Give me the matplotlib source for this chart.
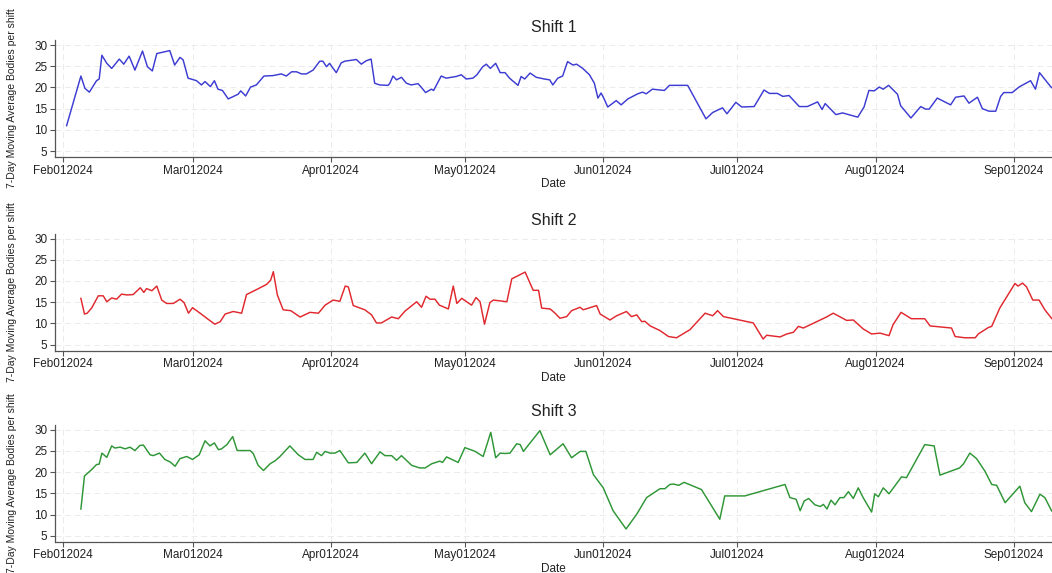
"""Three-panel 7-day moving average of bodies per shift."""

import matplotlib

matplotlib.use("Agg")
import matplotlib.dates as mdates
import matplotlib.pyplot as plt
import pandas as pd

START = pd.Timestamp("2024-02-01")

# day offsets from Feb 1 2024
shift1_days = [0.8, 4, 4.9, 5.9, 7.5, 8.1, 8.7, 9.8, 10.9, 12.6, 13.6, 14.8, 16.1, 17.8,
               18.9, 20, 21, 23.9, 25, 26.2, 26.9, 28, 29.9, 31, 31.8, 33, 33.9, 34.7,
               35.7, 37, 39.2, 39.8, 40.9, 42, 43.3, 45, 47, 48.9, 50, 51.2, 52.3, 53.4,
               54.5, 56, 57.5, 58.2, 59, 59.7, 60.5, 61.2, 62.3, 63.1, 65.7, 66.8, 67.9,
               69, 69.8, 70.9, 72.8, 73.2, 73.9, 74.7, 75.8, 76.9, 78, 79.5, 80.2, 81.2,
               82.5, 83, 84.7, 85.8, 88.1, 89.2, 90.3, 91.8, 92.7, 94, 94.8, 95.7, 96.9,
               97.9, 99, 100, 101.9, 102.6, 103.4, 104.6, 106, 107.8, 109, 109.7, 110.8,
               111.9, 113, 114.2, 115, 116.4, 117.9, 119, 119.8, 120.5, 121.1, 122, 123.9,
               125, 126.5, 128.7, 129.8, 130.6, 132, 134.7, 135.8, 139.9, 144, 145.5,
               147.7, 148.7, 150.7, 152, 154.8, 157, 158.2, 160, 161.2, 162.6, 164.9,
               166.7, 169, 170, 170.7, 173.1, 174.6, 178, 179.4, 180.5, 181.7, 182.8,
               183.7, 184.9, 186.9, 187.6, 189.9, 192.1, 193.2, 194, 195.8, 198.8, 199.9,
               201.8, 202.9, 204.8, 205.9, 207.4, 208.9, 210, 210.7, 212.6, 214.1, 216.7,
               217.8, 218.7, 221.2, 223]
shift1_vals = [11.0, 22.7, 19.8, 18.9, 21.6, 22.0, 27.6, 25.7, 24.5, 26.7, 25.5, 27.4, 24.1,
               28.6, 24.9, 23.9, 28.0, 28.7, 25.3, 27.1, 26.5, 22.2, 21.6, 20.6, 21.4, 20.2,
               21.6, 19.6, 19.3, 17.3, 18.4, 19.2, 18.0, 20.1, 20.6, 22.7, 22.8, 23.2, 22.7,
               23.7, 23.7, 23.2, 23.2, 24.1, 26.2, 26.2, 24.9, 25.7, 24.5, 23.5, 25.8, 26.2,
               26.6, 25.5, 26.3, 26.7, 21.0, 20.6, 20.5, 21.0, 22.7, 21.8, 22.4, 21.0, 20.6,
               20.9, 20.1, 18.8, 19.6, 19.3, 22.7, 22.2, 22.6, 23.0, 22.0, 22.2, 23.0, 24.9,
               25.5, 24.5, 25.7, 23.5, 23.5, 22.2, 20.5, 22.6, 22.0, 23.4, 22.4, 22.0, 21.8,
               20.6, 22.2, 22.7, 26.1, 25.3, 25.5, 24.5, 23.0, 21.0, 17.5, 18.7, 17.5, 15.4,
               16.9, 15.9, 17.3, 18.5, 18.9, 18.5, 19.6, 19.3, 20.5, 20.5, 12.6, 14.1, 15.2,
               13.8, 16.5, 15.4, 15.5, 19.4, 18.6, 18.6, 17.9, 18.1, 15.5, 15.5, 16.6, 14.8,
               16.2, 13.6, 14.0, 13.0, 15.4, 19.3, 19.2, 20.1, 19.6, 20.5, 18.4, 15.7, 12.8,
               15.5, 14.9, 14.9, 17.5, 15.9, 17.7, 18.0, 16.3, 17.7, 15.0, 14.4, 14.4, 17.9,
               18.8, 18.8, 20.1, 21.6, 19.6, 23.5, 20.2, 18.5]

shift2_days = [4, 4.8, 5.4, 6.4, 7.9, 9, 9.8, 10.9, 12, 13.1, 14.3, 15.7, 17.3, 18.1, 18.7,
               19.9, 21, 22.1, 23.2, 24.7, 26.2, 27.1, 28.1, 29, 30.7, 32.2, 34, 35.2, 36.3,
               38.1, 40, 41.1, 43.4, 45.6, 46.5, 47.1, 48, 49.3, 51, 53.1, 55.3, 57.2, 58.7,
               60.5, 62, 63.2, 63.9, 65, 67.6, 69.1, 70.2, 71.3, 73.6, 75.1, 76.6, 79.2,
               80.3, 81.3, 82.2, 83.3, 84.3, 86.3, 87.4, 88.2, 89.3, 91.5, 92.5, 93.4, 94.4,
               95.6, 96.4, 99.4, 100.5, 103.5, 105.3, 106.5, 107.2, 109.1, 110.2, 111.3,
               112.8, 113.9, 115.8, 116.5, 119.5, 120.3, 122.5, 124, 126.2, 127.3, 128.5,
               129.6, 130.3, 131.5, 133.7, 135.6, 137.4, 140.4, 143.8, 145.5, 146.6, 147.9,
               154.6, 156.8, 157.6, 160.6, 162.1, 163.6, 164.7, 165.8, 171, 172.5, 175.5,
               177, 179.2, 181.1, 183, 185, 185.9, 187.7, 190, 193, 194.2, 199, 199.8, 202,
               204.3, 205, 207.2, 208, 209.8, 213.2, 213.9, 214.9, 215.8, 217.2, 218.6,
               219.9, 221.4, 223]
shift2_vals = [15.9, 12.2, 12.4, 13.6, 16.5, 16.5, 15.1, 16.0, 15.7, 16.9, 16.7, 16.8, 18.4,
               17.3, 18.2, 17.7, 18.8, 15.5, 14.7, 14.7, 15.7, 14.9, 12.4, 13.7, 12.4, 11.2,
               9.8, 10.4, 12.2, 12.8, 12.4, 16.8, 18.0, 19.2, 20.2, 22.2, 16.7, 13.2, 13.0,
               11.5, 12.6, 12.4, 14.3, 15.5, 15.2, 18.8, 18.6, 14.2, 13.2, 12.0, 10.1, 10.1,
               11.5, 11.1, 12.9, 15.1, 13.8, 16.4, 15.7, 15.7, 14.3, 13.4, 18.8, 14.7, 15.9,
               14.3, 16.1, 15.1, 9.8, 14.9, 15.5, 15.1, 20.5, 22.1, 17.8, 17.8, 13.6, 13.4,
               12.4, 11.2, 11.6, 13.0, 13.8, 13.2, 14.2, 12.2, 10.8, 11.8, 12.8, 11.6, 12.0,
               10.4, 10.5, 9.4, 8.3, 6.9, 6.6, 8.5, 12.4, 11.8, 13.0, 11.6, 10.1, 6.3, 7.2,
               6.8, 7.5, 7.9, 9.3, 8.9, 11.5, 12.4, 10.7, 10.8, 8.7, 7.5, 7.7, 7.1, 9.7,
               12.6, 11.1, 11.1, 9.4, 8.9, 6.9, 6.6, 6.6, 7.5, 9.0, 9.3, 13.6, 19.4, 18.8,
               19.5, 18.6, 15.5, 15.5, 13.2, 11.2, 9.5]

shift3_days = [4, 4.8, 6.4, 7.5, 8.1, 8.7, 9.8, 10.9, 11.6, 12.8, 13.9, 15, 16.1, 17.2, 18,
               19.5, 20.2, 21.6, 22.8, 24, 25.1, 26.2, 27.7, 29, 30.5, 31.8, 32.9, 33.9,
               34.8, 35.5, 36.7, 38, 39, 40.4, 41.9, 42.6, 43.7, 44.9, 46.4, 47.5, 48.6,
               50.8, 52.7, 54.2, 56, 56.8, 57.9, 58.7, 59.8, 60.9, 62, 63.9, 65.8, 67.6,
               69.1, 71, 72.1, 73.6, 74.7, 75.8, 78.1, 79.9, 81.1, 82.6, 84.4, 85, 85.9,
               88.5, 90, 92.3, 94.1, 95.8, 96.9, 97.9, 99, 100.1, 101.6, 102.4, 103.1,
               106.8, 109.1, 112, 113.9, 115.8, 117.1, 118.8, 121, 123.2, 126.1, 128.5,
               130.7, 133.7, 134.8, 135.9, 136.7, 137.9, 139.1, 143, 147.1, 148.2, 152.7,
               161.7, 162.8, 164.2, 165.1, 166, 167, 168.4, 169.6, 170.3, 171.1, 172,
               172.9, 174, 174.9, 175.9, 177, 178.1, 179.2, 181.1, 181.8, 182.6, 183.7,
               185, 187.8, 188.9, 193, 195.1, 196.4, 200.8, 201.7, 203.1, 204.6, 206.5,
               208, 209.1, 211, 214.3, 215.4, 216.9, 218.8, 219.9, 221.4, 223]
shift3_vals = [11.3, 19.1, 20.6, 21.8, 21.9, 24.5, 23.5, 26.2, 25.7, 25.9, 25.5, 25.9, 25.1,
               26.3, 26.4, 24.1, 23.9, 24.5, 23.0, 22.4, 21.4, 23.2, 23.7, 23.0, 24.1, 27.4,
               26.2, 26.9, 25.3, 25.5, 26.5, 28.4, 25.1, 25.1, 25.1, 24.4, 21.6, 20.4, 22.0,
               22.7, 23.7, 26.2, 24.1, 23.0, 23.0, 24.7, 23.9, 24.9, 24.5, 24.5, 25.1, 22.2,
               22.3, 24.5, 22.0, 24.8, 23.9, 23.9, 22.8, 23.9, 21.6, 21.0, 21.0, 22.0, 22.6,
               22.3, 23.6, 22.3, 25.8, 24.9, 23.7, 29.4, 23.4, 24.5, 24.4, 24.5, 26.7, 26.5,
               24.9, 29.8, 24.1, 26.7, 23.4, 24.9, 24.9, 19.4, 16.3, 10.9, 6.6, 10.1, 14.0,
               16.1, 16.1, 17.1, 17.2, 16.9, 17.6, 15.9, 8.9, 14.4, 14.4, 17.1, 14.0, 13.6,
               10.9, 13.2, 13.8, 12.3, 11.9, 12.4, 11.3, 13.4, 12.3, 14.0, 14.0, 15.4, 13.8,
               16.3, 14.0, 10.6, 14.9, 14.2, 16.3, 14.9, 18.9, 18.7, 26.5, 26.2, 19.3, 21.0,
               22.0, 24.5, 23.2, 20.2, 17.1, 16.9, 12.8, 16.7, 12.8, 10.7, 14.8, 14.0, 10.9,
               9.5]

shift_titles = ["Shift 1", "Shift 2", "Shift 3"]
shift_colors = ["#3c3cd2", "#e0282e", "#2e9636"]
month_ticks = ["2024-02-01", "2024-03-01", "2024-04-01", "2024-05-01",
               "2024-06-01", "2024-07-01", "2024-08-01", "2024-09-01"]

plt.rcParams["font.family"] = ["Liberation Sans", "DejaVu Sans"]

W, H = 1052, 573
fig = plt.figure(figsize=(W / 100, H / 100), dpi=100)

series = [(shift1_days, shift1_vals), (shift2_days, shift2_vals), (shift3_days, shift3_vals)]
bottoms_px = [157, 350.5, 541.7]
panel_h = 117
left_px = 55

for (days, vals), title, color, bot in zip(series, shift_titles, shift_colors, bottoms_px):
    ax = fig.add_axes([left_px / W, 1 - bot / H, (W - left_px) / W, panel_h / H])
    dates = START + pd.to_timedelta(days, unit="D")
    ax.plot(dates, vals, color=color, lw=1.05)

    ax.set_xlim(START - pd.Timedelta(days=1.8), START + pd.Timedelta(days=221.5))
    ax.set_ylim(3.6, 31.2)
    ax.set_yticks([5, 10, 15, 20, 25, 30])
    ax.set_xticks(pd.to_datetime(month_ticks))
    ax.xaxis.set_major_formatter(mdates.DateFormatter("%b%d%Y"))

    ax.grid(True, color="#ebebeb", lw=0.7, ls=(0, (6, 4)))
    ax.set_axisbelow(True)
    for side in ("top", "right"):
        ax.spines[side].set_visible(False)
    for side in ("left", "bottom"):
        ax.spines[side].set_color("#555555")
        ax.spines[side].set_linewidth(0.9)
    ax.tick_params(axis="both", labelsize=8.5, length=3.5, width=0.8,
                   color="#555555", pad=2, labelcolor="#222222")

    ax.set_title(title, fontsize=11.5, color="#222222", pad=6)
    ax.set_xlabel("Date", fontsize=8.5, color="#222222")
    ax.xaxis.set_label_coords(0.5, -0.18)
    ax.set_ylabel("7-Day Moving Average Bodies per shift", fontsize=7.5, color="#222222")
    ax.yaxis.set_label_coords(-0.038, 0.5)

fig.savefig("out.png", dpi=100)
